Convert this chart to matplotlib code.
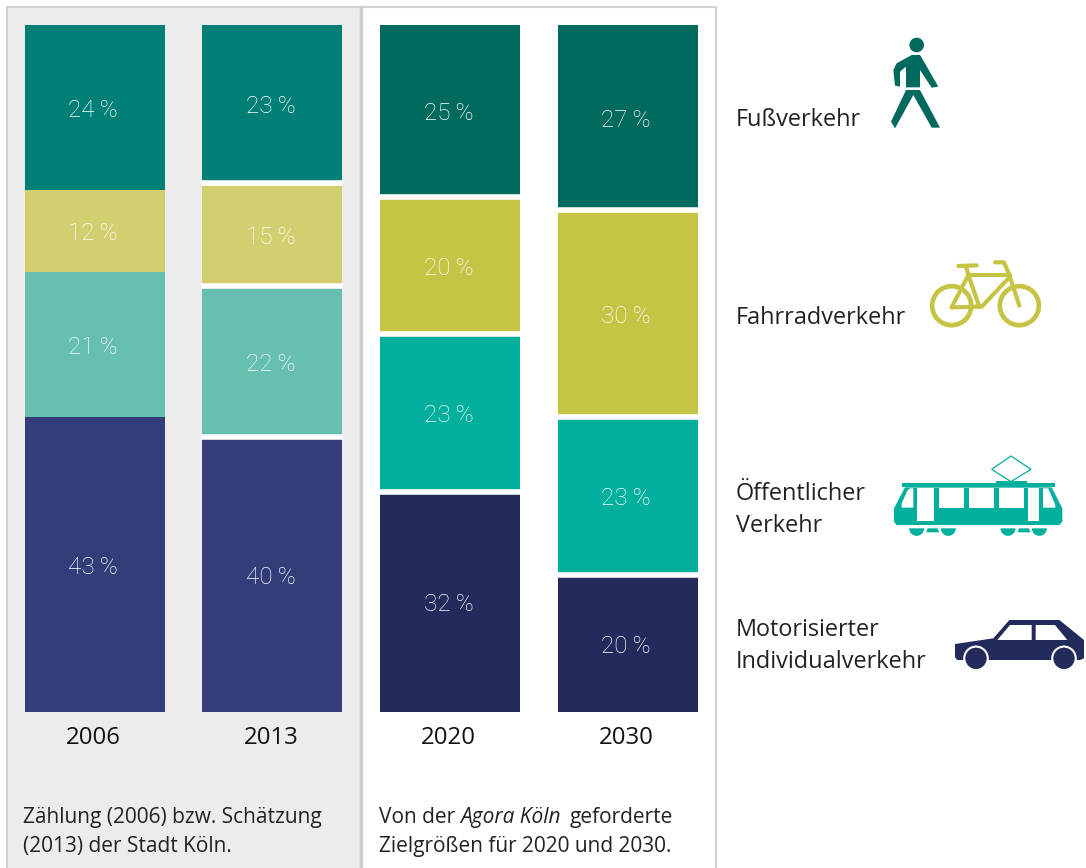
import matplotlib
matplotlib.use('Agg')
import matplotlib.pyplot as plt
from matplotlib.patches import Circle, Polygon, Rectangle, Wedge

plt.rcParams['font.family'] = ['Open Sans', 'DejaVu Sans']

years = ['2006', '2013', '2020', '2030']
walk = [24, 23, 25, 27]
bike = [12, 15, 20, 30]
transit = [21, 22, 23, 23]
car = [43, 40, 32, 20]
series = [walk, bike, transit, car]

colors_old = ['#007F77', '#D2CF70', '#66BFAF', '#323D7A']
colors_new = ['#006A5E', '#C5C445', '#00B09D', '#232A5C']

W, H = 1086, 868
fig = plt.figure(figsize=(W / 100, H / 100), dpi=100, facecolor='white')

# ebene in pixelkoordinaten fuer hintergrund, icons und texte
bg = fig.add_axes([0, 0, 1, 1], zorder=0)
bg.set_xlim(0, W)
bg.set_ylim(H, 0)
bg.axis('off')

bg.add_patch(Rectangle((7, 7), 354, 870, fc='#ECECEC', ec='none'))
bg.plot([7, 7], [7, H], color='#D2D2D2', lw=1.5)
bg.plot([7, 716], [7, 7], color='#D2D2D2', lw=1.5)
bg.plot([361, 361], [7, H], color='#CDCDCD', lw=2.5)
bg.plot([716, 716], [7, H], color='#D2D2D2', lw=1.5)

# balken
ax = fig.add_axes([24.7 / W, 1 - 712 / H, 673 / W, 687 / H], zorder=1)
ax.patch.set_alpha(0)
ax.set_xlim(-0.394, 3.394)
ax.set_ylim(100, 0)
ax.axis('off')

for i in range(4):
    cols = colors_old if i < 2 else colors_new
    bottom = 0
    for k, s in enumerate(series):
        v = s[i]
        ax.bar(i, v, 0.788, bottom=bottom, color=cols[k], lw=0)
        ax.annotate(f'{v}\u2009%', (i, bottom + v / 2), xytext=(-1, -2), textcoords='offset points',
                    color='white', fontsize=17.5, family='Roboto', ha='center', va='center',
                    fontweight='light')
        bottom += v
        # weisse trennlinien, 2006 hat keine
        if i > 0 and k < 3:
            ax.plot([i - 0.4, i + 0.4], [bottom, bottom], color='white', lw=4,
                    solid_capstyle='butt', clip_on=False)
    ax.annotate(years[i], (i, 100), xytext=(-1, -10), textcoords='offset points',
                ha='center', va='top', fontsize=17.3, color='#111111')

# texte
txt = dict(fontsize=16.9, color='#222222', va='center')
bg.text(736, 119.5, 'Fußverkehr', **txt)
bg.text(736, 317.5, 'Fahrradverkehr', **txt)
bg.text(736, 493.5, 'Öffentlicher', **txt)
bg.text(736, 526.5, 'Verkehr', **txt)
bg.text(736, 629.5, 'Motorisierter', **txt)
bg.text(736, 662.5, 'Individualverkehr', **txt)

note = dict(fontsize=15, color='#222222', va='center')
bg.text(23, 817.5, 'Zählung (2006) bzw. Schätzung', **note)
bg.text(23, 846.5, '(2013) der Stadt Köln.', **note)
bg.text(379, 817.5, 'Von der', **note)
bg.text(460, 817.5, 'Agora Köln', style='italic', **note)
bg.text(570, 817.5, 'geforderte', **note)
bg.text(379, 846.5, 'Zielgrößen für 2020 und 2030.', **note)


# icons: koordinaten aus den ausschnitten (3fach vergroessert)
def z1(pts):
    return [(720 + x / 3, 20 + y / 3) for x, y in pts]


def z2(pts):
    return [(720 + x / 3, 440 + y / 3) for x, y in pts]


def poly(pts, color):
    bg.add_patch(Polygon(pts, closed=True, fc=color, ec='none', zorder=3))


# fussgaenger
c = colors_new[0]
bg.add_patch(Circle(z1([(590, 75)])[0], 7.3, fc=c, ec='none', zorder=3))
poly(z1([(575, 105), (600, 105), (612, 125), (655, 200), (635, 203), (600, 150), (600, 202),
         (558, 202), (558, 140), (540, 155), (540, 200), (525, 197), (520, 150), (530, 130)]), c)
poly(z1([(558, 210), (600, 210), (660, 323), (635, 323), (580, 225), (525, 325), (513, 305)]), c)

# fahrrad
c = colors_new[1]
for p in z1([(695, 857), (898, 857)]):
    bg.add_patch(Circle(p, 19.5, fc='none', ec=c, lw=3.4, zorder=3))
bike_lines = [
    [(695, 862), (745, 765), (778, 860), (695, 862)],
    [(745, 765), (870, 765)],
    [(870, 770), (785, 860), (770, 860)],
    [(825, 727), (852, 727), (868, 765), (898, 857)],
    [(715, 738), (770, 736)],
    [(745, 765), (738, 738)],
]
for line in bike_lines:
    pts = z1(line)
    bg.plot([p[0] for p in pts], [p[1] for p in pts], color=c, lw=3, zorder=3,
            solid_capstyle='round', solid_joinstyle='round')

# strassenbahn
c = colors_new[2]
bg.add_patch(Polygon(z2([(873, 48), (933, 88), (873, 125), (815, 88)]), closed=True,
                     fc='none', ec=c, lw=0.9, zorder=3))
poly(z2([(828, 123), (920, 123), (920, 130), (828, 130)]), c)
poly(z2([(545, 128), (1005, 128), (1005, 142), (545, 142)]), c)
poly(z2([(555, 142), (522, 205), (522, 245), (530, 255), (1018, 255), (1027, 245),
         (1027, 205), (995, 142)]), c)
tram_windows = [
    [(580, 145), (580, 203), (545, 203), (545, 190), (562, 152), (570, 145)],
    [(592, 145), (643, 145), (643, 243), (592, 243)],
    [(657, 145), (733, 145), (733, 203), (657, 203)],
    [(747, 145), (823, 145), (823, 203), (747, 203)],
    [(837, 145), (913, 145), (913, 203), (837, 203)],
    [(925, 145), (956, 145), (956, 243), (925, 243)],
    [(969, 145), (985, 145), (1006, 195), (1006, 203), (969, 203)],
]
for w in tram_windows:
    bg.add_patch(Polygon(z2(w), closed=True, fc='white', ec='none', zorder=4))
for cx in [590, 685, 864, 958]:
    p = z2([(cx, 265)])[0]
    bg.add_patch(Wedge(p, 7.5, 0, 180, fc=c, ec='none', zorder=3))
poly(z2([(623, 265), (653, 265), (657, 277), (619, 277)]), c)
poly(z2([(897, 265), (927, 265), (931, 277), (893, 277)]), c)

# auto
c = colors_new[3]
poly(z2([(705, 612), (820, 595), (868, 540), (1018, 540), (1092, 600), (1092, 655),
         (1080, 660), (712, 660), (705, 652)]), c)
for w in [[(832, 600), (870, 555), (935, 555), (935, 600)],
          [(947, 555), (1005, 555), (1042, 600), (947, 600)]]:
    bg.add_patch(Polygon(z2(w), closed=True, fc='white', ec='none', zorder=4))
for cx in [768, 1032]:
    p = z2([(cx, 655)])[0]
    bg.add_patch(Circle(p, 12.8, fc='white', ec='none', zorder=4))
    bg.add_patch(Circle(p, 10.7, fc=c, ec='none', zorder=5))

fig.savefig('out.png', dpi=100)
